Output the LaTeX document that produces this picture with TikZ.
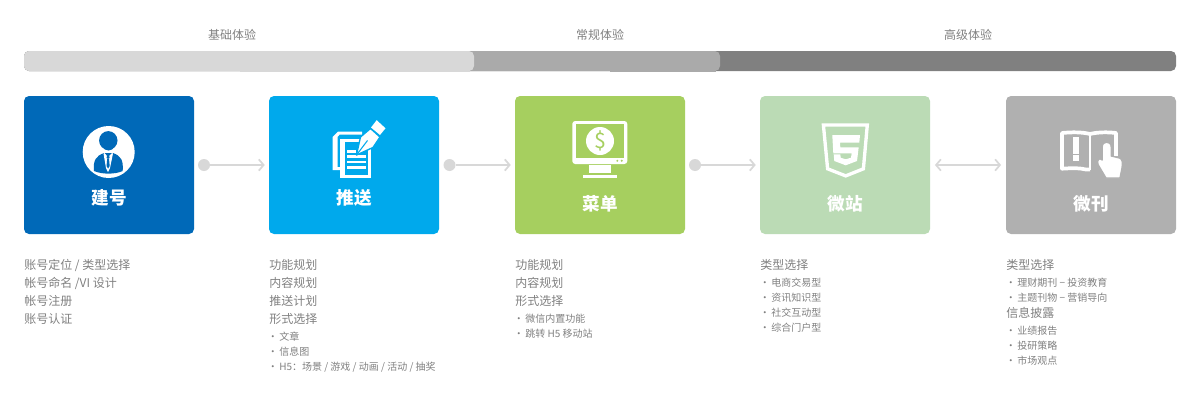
\documentclass[tikz,border=0pt]{standalone}
\usepackage{fontspec}
\setmainfont{Noto Sans CJK SC}
\usetikzlibrary{arrows.meta}
\definecolor{cblue}{HTML}{0069B8}
\definecolor{ccyan}{HTML}{00A9EC}
\definecolor{cgreen}{HTML}{A6CF5F}
\definecolor{cpale}{HTML}{BBDBB5}
\definecolor{cgrey}{HTML}{B0B0B0}
\definecolor{barA}{HTML}{D8D8D8}
\definecolor{barB}{HTML}{AAAAAA}
\definecolor{barC}{HTML}{808080}
\definecolor{txt}{HTML}{808080}
\definecolor{link}{HTML}{D8D8D8}
\tikzset{
  x=0.75pt,y=-0.75pt,
  card/.style={rectangle,rounded corners=3.75pt,minimum width=127.5pt,minimum height=103.5pt,inner sep=0pt,draw=none},
  cardlabel/.style={text=white,font=\fontsize{13.2}{14}\selectfont\bfseries,inner sep=0pt},
  toplabel/.style={text=txt,font=\fontsize{9}{10}\selectfont,inner sep=0pt},
  mainline/.style={text=txt,font=\fontsize{9}{10}\selectfont,inner sep=0pt,anchor=west},
  subline/.style={text=txt,font=\fontsize{7.5}{9}\selectfont,inner sep=0pt,anchor=west},
  startdot/.style={circle,fill=link,draw=none,minimum size=9pt,inner sep=0pt},
  conn/.style={draw=link,line width=1.3pt,-{Straight Barb[length=3.6pt,width=8.5pt,line width=1.3pt]},shorten >=3pt},
  conntwo/.style={draw=link,line width=1.3pt,{Straight Barb[length=3.6pt,width=8.5pt,line width=1.3pt]}-{Straight Barb[length=3.6pt,width=8.5pt,line width=1.3pt]},shorten >=3.5pt,shorten <=3.5pt},
}
\newcommand{\bul}[1]{\makebox[7.5pt][r]{·\hspace{1pt}}#1}
\begin{document}
\begin{tikzpicture}
\useasboundingbox (0,0) rectangle (1200,400);
% progress bar
\fill[barC,rounded corners=3.75pt] (24,51) rectangle (1176,71);
\fill[barB] (610,60) rectangle (716,71.5);
\fill[barB,rounded corners=3.75pt] (24,51) rectangle (720,71);
\fill[barA] (240,60) rectangle (470,71.5);
\fill[barA,rounded corners=3.75pt] (24,51) rectangle (474,71);
\node[toplabel] (t1) at (232,35) {基础体验};
\node[toplabel] (t2) at (600,35) {常规体验};
\node[toplabel] (t3) at (968,35) {高级体验};
% cards
\node[card,fill=cblue] (b1) at (109,165) {};
\node[card,fill=ccyan] (b2) at (354,165) {};
\node[card,fill=cgreen] (b3) at (600,165) {};
\node[card,fill=cpale] (b4) at (845,165) {};
\node[card,fill=cgrey] (b5) at (1091,165) {};
\node[cardlabel] (n1) at (109,197.5) {建号};
\node[cardlabel] (n2) at (354,197.5) {推送};
\node[cardlabel] (n3) at (600,204) {菜单};
\node[cardlabel] (n4) at (845,204) {微站};
\node[cardlabel] (n5) at (1091,204) {微刊};
% connectors
\node[startdot] (d1) at (204,165) {};
\node[startdot] (d2) at (449.5,165) {};
\node[startdot] (d3) at (695,165) {};
\draw[conn] (d1) -- (b2);
\draw[conn] (d2) -- (b3);
\draw[conn] (d3) -- (b4);
\draw[conntwo] (b4) -- (b5);
% icon 1: person
\begin{scope}
\fill[white] (108.7,152) circle (26);
\clip (108.7,152) circle (26);
\fill[cblue] (94,171) .. controls (93,160) and (96,156) .. (104,153) -- (113,153) .. controls (121,156) and (123.5,160) .. (122.7,171) .. controls (115,174.5) and (102,174.5) .. (94,171) -- cycle;
\fill[white] (104.5,153) -- (108,157) -- (112,153) -- (113,153.5) -- (110,168) -- (108,172) -- (106,168) -- (103.5,153.5) -- cycle;
\fill[cblue] (107,155.5) -- (109.2,155.5) -- (109.6,158) -- (108.1,159) -- (106.6,158) -- cycle;
\fill[cblue] (107.2,159) -- (109,159) -- (109.7,166) -- (108.1,168.5) -- (106.5,166) -- cycle;
\fill[cblue] (108.3,140.5) ellipse (9.2 and 9.4);
\fill[cblue] (102.5,146) .. controls (104,152) and (113,152) .. (114.5,146) -- cycle;
\end{scope}
% icon 2: documents and pen
\fill[white] (332.7,137) -- (338,131.7) -- (362,131.7) -- (362,134.7) -- (339.5,134.7) -- (337.7,136.8) -- (337.7,167) -- (340,167) -- (340,170.2) -- (332.7,170.2) -- cycle;
\fill[white] (340,139) -- (371,139) -- (371,177.7) -- (340,177.7) -- cycle;
\fill[ccyan] (344.5,142) -- (368.2,142) -- (368.2,175) -- (344.5,175) -- cycle;
\fill[white] (346.7,150) rectangle (356,152.6);
\fill[white] (346.7,155.4) rectangle (365.5,158);
\fill[white] (346.7,160.6) rectangle (365.5,163.2);
\fill[white] (346.7,166) rectangle (365.5,168.6);
\fill[white,draw=ccyan,line width=1pt,line join=round] (356.5,155) -- (360.5,137) -- (370.5,128.5) -- (380,137) -- (373,147.5) -- cycle;
\draw[ccyan,line width=0.8pt] (356.5,155) -- (367.5,140.5);
\fill[white] (371,127.5) -- (376.7,120.2) -- (385.5,128.3) -- (380,135) -- cycle;
% icon 3: monitor
\fill[white,rounded corners=2.2pt] (572.3,121) rectangle (627.3,164);
\fill[cgreen] (575.5,124.3) rectangle (624.2,158.3);
\fill[white] (600,141) circle (14);
\node[text=cgreen,font=\fontsize{16}{17}\selectfont,inner sep=0pt] (dollar) at (600,141) {\$};
\fill[cgreen] (617.3,160.8) circle (1.1) (621.7,160.8) circle (1.1);
\fill[white] (589.3,165.3) rectangle (610.7,173.3);
\fill[white] (583.3,175) rectangle (616.7,178);
% icon 4: HTML5 shield
\draw[white,line width=2.5pt,miter limit=4] (823.4,125) -- (867.3,125) -- (863.4,168.8) -- (845.7,175.9) -- (827.6,168.8) -- cycle;
\fill[white] (832.3,135) -- (860,135) -- (859.3,142.7) -- (840,142.7) -- (840.3,147.3) -- (858.7,147.3) -- (857,161) -- (845.7,165.3) -- (834.3,161) -- (833.7,154.3) -- (840.3,154.3) -- (840.7,157.7) -- (845.7,159.3) -- (851,157.7) -- (851.7,153.3) -- (833.3,153.3) -- cycle;
% icon 5: book with hand
\draw[white,line width=2.8pt,line join=round] (1090,169.5) .. controls (1088,170) and (1088,170) .. (1086,169.5) .. controls (1080,168) and (1072,168) .. (1062,168.7) -- (1062,133) .. controls (1072,132) and (1082,132) .. (1090,134) .. controls (1098,132) and (1108,132) .. (1116,133) -- (1116,156);
\draw[white,line width=2.2pt] (1090,134) -- (1090,170);
\fill[white] (1072.7,136.7) rectangle (1079.3,154);
\fill[white] (1072.7,155) rectangle (1079.3,160.7);
\fill[white,draw=cgrey,line width=1pt,line join=round] (1102.2,147) .. controls (1102.2,140.5) and (1111.2,140.5) .. (1111.2,147) -- (1111.2,156) -- (1119.5,158) .. controls (1122.5,159) and (1122.8,163) .. (1122,168) -- (1120,178) -- (1106,178) -- (1098,164.5) .. controls (1096.5,160) and (1099.5,157) .. (1102.2,160) -- cycle;
% text columns
\node[mainline] (a1) at (24,265) {账号定位 / 类型选择};
\node[mainline] (a2) at (24,283) {帐号命名 /VI 设计};
\node[mainline] (a3) at (24,301) {帐号注册};
\node[mainline] (a4) at (24,319) {账号认证};
\node[mainline] (c1) at (269,265) {功能规划};
\node[mainline] (c2) at (269,283) {内容规划};
\node[mainline] (c3) at (269,301) {推送计划};
\node[mainline] (c4) at (269,319) {形式选择};
\node[subline] (c5) at (269,337) {\bul{文章}};
\node[subline] (c6) at (269,352) {\bul{信息图}};
\node[subline] (c7) at (269,367) {\bul{H5：场景 / 游戏 / 动画 / 活动 / 抽奖}};
\node[mainline] (e1) at (515,265) {功能规划};
\node[mainline] (e2) at (515,283) {内容规划};
\node[mainline] (e3) at (515,301) {形式选择};
\node[subline] (e4) at (515,319) {\bul{微信内置功能}};
\node[subline] (e5) at (515,334) {\bul{跳转 H5 移动站}};
\node[mainline] (g1) at (760,265) {类型选择};
\node[subline] (g2) at (761,283) {\bul{电商交易型}};
\node[subline] (g3) at (761,298) {\bul{资讯知识型}};
\node[subline] (g4) at (761,313) {\bul{社交互动型}};
\node[subline] (g5) at (761,328) {\bul{综合门户型}};
\node[mainline] (k1) at (1006,265) {类型选择};
\node[subline] (k2) at (1007,283) {\bul{理财期刊 − 投资教育}};
\node[subline] (k3) at (1007,298) {\bul{主题刊物 − 营销导向}};
\node[mainline] (k4) at (1006,313) {信息披露};
\node[subline] (k5) at (1007,331) {\bul{业绩报告}};
\node[subline] (k6) at (1007,346) {\bul{投研策略}};
\node[subline] (k7) at (1007,361) {\bul{市场观点}};
\end{tikzpicture}
\end{document}
